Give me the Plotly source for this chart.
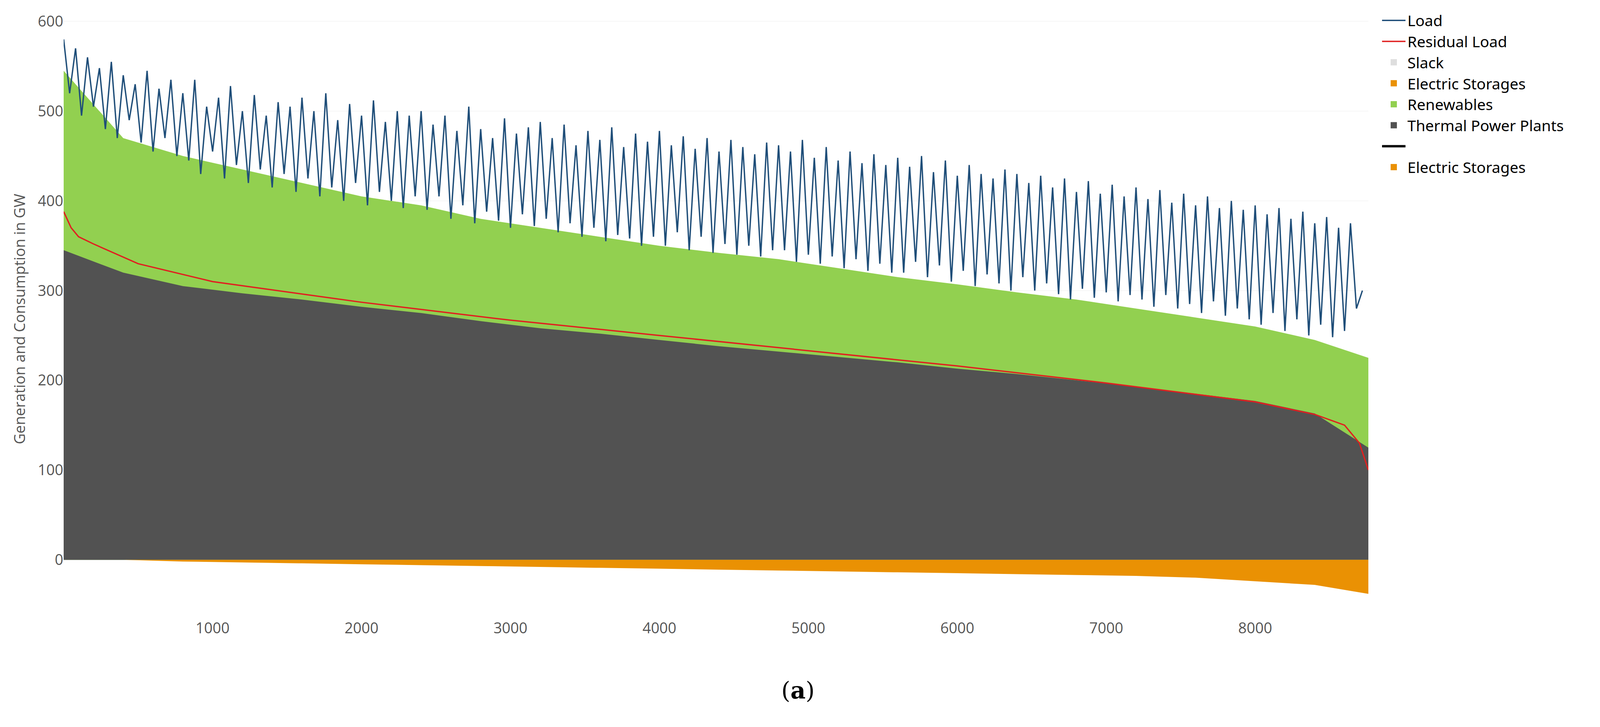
import plotly.graph_objects as go

# load curve sampled every 40 h
hours = list(range(0, 8721, 40))
load = [580, 520, 570, 495, 560, 505, 548, 480, 555, 470, 540, 490, 530, 465, 545, 455, 525, 470, 535, 450,
        520, 445, 535, 430, 505, 455, 515, 425, 528, 440, 500, 420, 518, 435, 495, 415, 510, 430, 505, 410,
        515, 425, 500, 405, 520, 415, 490, 400, 508, 420, 495, 395, 512, 410, 488, 400, 500, 392, 495, 405,
        500, 390, 485, 405, 495, 380, 478, 395, 505, 375, 480, 388, 470, 378, 492, 370, 475, 385, 482, 372,
        488, 380, 470, 365, 485, 375, 462, 360, 478, 370, 468, 355, 482, 362, 460, 358, 475, 350, 466, 360,
        478, 350, 462, 365, 472, 345, 458, 360, 470, 342, 455, 352, 468, 340, 460, 350, 452, 338, 465, 345,
        462, 345, 455, 332, 468, 340, 448, 330, 460, 338, 445, 325, 455, 335, 442, 322, 452, 330, 440, 320,
        448, 320, 438, 332, 450, 315, 432, 328, 445, 310, 428, 322, 440, 305, 430, 318, 425, 308, 435, 300,
        430, 315, 420, 300, 428, 308, 415, 296, 425, 290, 410, 302, 422, 292, 408, 298, 418, 288, 405, 295,
        415, 290, 402, 282, 412, 295, 398, 280, 408, 285, 395, 275, 405, 288, 392, 272, 400, 280, 390, 268,
        395, 262, 385, 275, 392, 255, 380, 268, 388, 250, 375, 262, 382, 248, 370, 255, 375, 280, 300]

area_hours = [0, 400, 800, 1200, 1600, 2000, 2400, 2800, 3200, 3600, 4000, 4400,
              4800, 5200, 5600, 6000, 6400, 6800, 7200, 7600, 8000, 8400, 8760]
renewables_top = [545, 470, 450, 435, 420, 405, 395, 380, 370, 360, 350, 342,
                  335, 325, 315, 307, 298, 290, 280, 270, 260, 245, 225]
thermal = [345, 320, 305, 297, 290, 282, 275, 266, 258, 252, 245, 238,
           232, 226, 220, 213, 207, 200, 193, 185, 177, 163, 125]
storage = [0, 0, -2, -3, -4, -5, -6, -7, -8, -9, -10, -11,
           -12, -13, -14, -15, -16, -17, -18, -20, -24, -28, -38]

res_hours = [0, 50, 100, 200, 500, 1000, 2000, 3000, 4000, 5000, 6000, 7000,
             8000, 8400, 8600, 8700, 8760]
residual = [388, 370, 360, 352, 330, 310, 287, 267, 250, 233, 216, 197,
            176, 162, 150, 130, 100]

GREEN, GREY, ORANGE, SLACK = '#92d050', '#525252', '#ea9103', '#dedede'

fig = go.Figure()
fig.add_trace(go.Scatter(x=area_hours, y=renewables_top, fill='tozeroy', mode='none',
                         fillcolor=GREEN, showlegend=False))
fig.add_trace(go.Scatter(x=area_hours, y=thermal, fill='tozeroy', mode='none',
                         fillcolor=GREY, showlegend=False))
fig.add_trace(go.Scatter(x=area_hours, y=storage, fill='tozeroy', mode='none',
                         fillcolor=ORANGE, showlegend=False))
fig.add_trace(go.Scatter(x=hours, y=load, name='Load', mode='lines',
                         line=dict(color='#1f4e79', width=3.5), legendrank=1))
fig.add_trace(go.Scatter(x=res_hours, y=residual, name='Residual Load', mode='lines',
                         line=dict(color='#e02020', width=3.5), legendrank=2))

# legend-only entries with square swatches
def swatch(name, color, rank):
    fig.add_trace(go.Scatter(x=[None], y=[None], name=name, mode='markers',
                             marker=dict(symbol='square', size=30, color=color), legendrank=rank))

swatch('Slack', SLACK, 3)
swatch('Electric Storages', ORANGE, 4)
swatch('Renewables', GREEN, 5)
swatch('Thermal Power Plants', GREY, 6)
fig.add_trace(go.Scatter(x=[None], y=[None], name=' ', mode='lines',
                         line=dict(color='black', width=6), legendrank=7))
swatch('Electric Storages', ORANGE, 8)

fig.update_layout(
    width=4157, height=1862,
    paper_bgcolor='white', plot_bgcolor='white',
    margin=dict(l=155, r=662, t=30, b=287),
    font=dict(family='Open Sans', color='#555555', size=36),
    legend=dict(x=1.009, y=1.02, xanchor='left', yanchor='top', itemwidth=60,
                font=dict(family='Noto Sans', size=39, color='black'),
                tracegroupgap=0),
    xaxis=dict(range=[0, 8760], tickvals=[1000, 2000, 3000, 4000, 5000, 6000, 7000, 8000],
               showgrid=False, zeroline=False, ticks='', tickfont=dict(size=38)),
    yaxis=dict(range=[-65, 601.7], tickvals=[0, 100, 200, 300, 400, 500, 600],
               gridcolor='#eeeeee', zeroline=True, zerolinecolor='#dddddd',
               title=dict(text='Generation and Consumption in GW', font=dict(size=38), standoff=20),
               tickfont=dict(size=38)),
    annotations=[dict(text='(<b>a</b>)', x=0.563, y=-0.145, xref='paper', yref='paper',
                      showarrow=False, font=dict(family='DejaVu Serif', size=60, color='black'))],
)

fig.write_html("out.html")
